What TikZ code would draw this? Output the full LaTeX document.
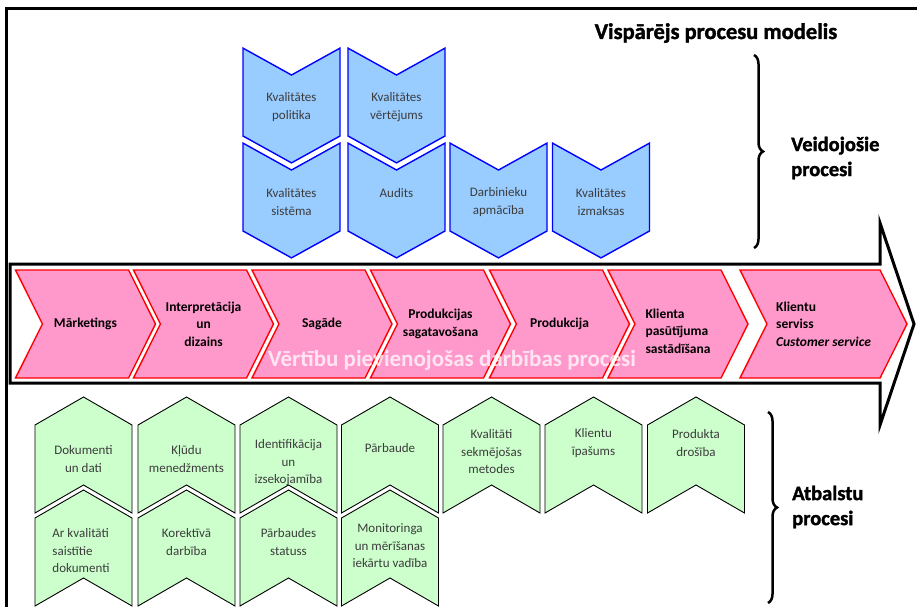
\documentclass[tikz,border=0pt]{standalone}
\usepackage{fontspec}
\setmainfont{Carlito}
\newfontfamily\heavyfont{Carlito Bold}[FakeBold=1.6]
\usetikzlibrary{shapes.symbols, decorations.pathreplacing}
\definecolor{chevpink}{RGB}{255,153,204}
\definecolor{chevblue}{RGB}{153,204,255}
\definecolor{chevgreen}{RGB}{204,255,204}
\definecolor{boxtext}{RGB}{60,60,60}

\begin{document}
\begin{tikzpicture}[x=1pt,y=-1pt]
        \tikzstyle{valuechev}=[signal,signal to=east,signal from=west,signal pointer angle=127,draw=red,fill=chevpink,line width=1.4pt,minimum width=140,minimum height=108,inner sep=0pt,align=center,font=\fontsize{13.5}{17.5}\selectfont\bfseries]
        \tikzstyle{formchev}=[signal,signal to=south,signal from=north,signal pointer angle=122,draw=blue,fill=chevblue,line width=1.4pt,minimum width=97,minimum height=61,inner sep=0pt]
        \tikzstyle{supchev}=[signal,signal to=north,signal from=south,signal pointer angle=120,draw=black,fill=chevgreen,line width=0.9pt,minimum width=97,minimum height=60,inner sep=0pt]
        \tikzstyle{boxlabel}=[inner sep=0pt,align=center,text=boxtext,font=\fontsize{13}{17.5}\selectfont]
        \tikzstyle{sidelabel}=[inner sep=0pt,align=left,anchor=west,font=\fontsize{20.5}{25}\heavyfont]
        \useasboundingbox (0,0) rectangle (917,607);
        % frame and big arrow
        \draw[line width=3pt] (6.5,607) -- (6.5,8.5) -- (917,8.5);
        \draw[line width=3pt,line join=miter] (10,264) -- (880,264) -- (880,223) -- (914,324) -- (880,425) -- (880,383) -- (10,383) -- cycle;
        \node[font=\fontsize{22.5}{26}\heavyfont] (title) at (716,33) {Vispārējs procesu modelis};
        % value adding chain
        \node[valuechev] (mark) at (85.5,324) {Mārketings};
        \node[valuechev] (interp) at (203.5,324) {Interpretācija\\un\\dizains};
        \node[valuechev] (supply) at (322,324) {Sagāde};
        \node[valuechev] (prep) at (440.5,324) {Produkcijas\\sagatavošana};
        \node[valuechev] (prod) at (559.5,324) {Produkcija};
        \node[valuechev] (order) at (678,324) {};
        \node[valuechev,minimum width=167,align=left] (service) at (823.5,324) {Klientu\\serviss\\\textit{Customer service}};
        \node[inner sep=0pt,align=left,font=\fontsize{13.5}{17.5}\selectfont\bfseries] (ordert) at (order |- 0,331) {Klienta\\pasūtījuma\\sastādīšana};
        \node[text=white,opacity=0.75,font=\fontsize{23}{26}\selectfont\bfseries] (chain) at (452,360) {Vērtību pievienojošas darbības procesi};
        % forming processes
        \node[formchev] (policy) at (291.5,105.5) {};
        \node[formchev] (review) at (396.5,105.5) {};
        \node[formchev] (system) at (291.5,200.5) {};
        \node[formchev] (audit) at (396.5,200.5) {};
        \node[formchev] (train) at (498.5,200.5) {};
        \node[formchev] (cost) at (601,200.5) {};
        \node[boxlabel] (policyt) at (policy |- 0,107) {Kvalitātes\\politika};
        \node[boxlabel] (reviewt) at (review |- 0,107) {Kvalitātes\\vērtējums};
        \node[boxlabel] (systemt) at (system |- 0,202) {Kvalitātes\\sistēma};
        \node[boxlabel] (auditt) at (audit |- 0,193) {Audits};
        \node[boxlabel] (traint) at (train |- 0,202) {Darbinieku\\apmācība};
        \node[boxlabel] (costt) at (cost |- 0,202) {Kvalitātes\\izmaksas};
        \draw[line width=2.5pt,decorate,decoration={brace,amplitude=9pt}] (754,55) -- (754,248);
        \node[sidelabel] (forming) at (791,158) {Veidojošie\\procesi};
        % support processes
        \node[supchev] (docs) at (83.5,455) {};
        \node[supchev] (errors) at (186.5,455) {};
        \node[supchev] (ident) at (288.5,455) {};
        \node[supchev] (check) at (390,455) {};
        \node[supchev] (methods) at (491.5,455) {};
        \node[supchev] (property) at (593.5,455) {};
        \node[supchev] (safety) at (696,455) {};
        \node[supchev] (qdocs) at (83.5,548) {};
        \node[supchev] (correct) at (186.5,548) {};
        \node[supchev] (status) at (288.5,548) {};
        \node[supchev] (monitor) at (390,548) {};
        \node[boxlabel] (docst) at (docs |- 0,459) {Dokumenti\\un dati};
        \node[boxlabel] (errorst) at (errors |- 0,459) {Kļūdu\\menedžments};
        \node[boxlabel] (identt) at (ident |- 0,463) {Identifikācija\\un\\izsekojamība};
        \node[boxlabel] (checkt) at (check |- 0,448) {Pārbaude};
        \node[boxlabel] (methodst) at (methods |- 0,452) {Kvalitāti\\sekmējošas\\metodes};
        \node[boxlabel] (propertyt) at (property |- 0,443) {Klientu\\īpašums};
        \node[boxlabel] (safetyt) at (safety |- 0,443) {Produkta\\drošība};
        \node[boxlabel,align=left] (qdocst) at (81,551) {Ar kvalitāti\\saistītie\\dokumenti};
        \node[boxlabel] (correctt) at (correct |- 0,542) {Korektīvā\\darbība};
        \node[boxlabel] (statust) at (status |- 0,542) {Pārbaudes\\statuss};
        \node[boxlabel] (monitort) at (monitor |- 0,546) {Monitoringa\\un mērīšanas\\iekārtu vadība};
        \draw[line width=2.5pt,decorate,decoration={brace,amplitude=9pt}] (768,412) -- (768,603);
        \node[sidelabel] (support) at (792,507) {Atbalstu\\procesi};
\end{tikzpicture}
\end{document}
